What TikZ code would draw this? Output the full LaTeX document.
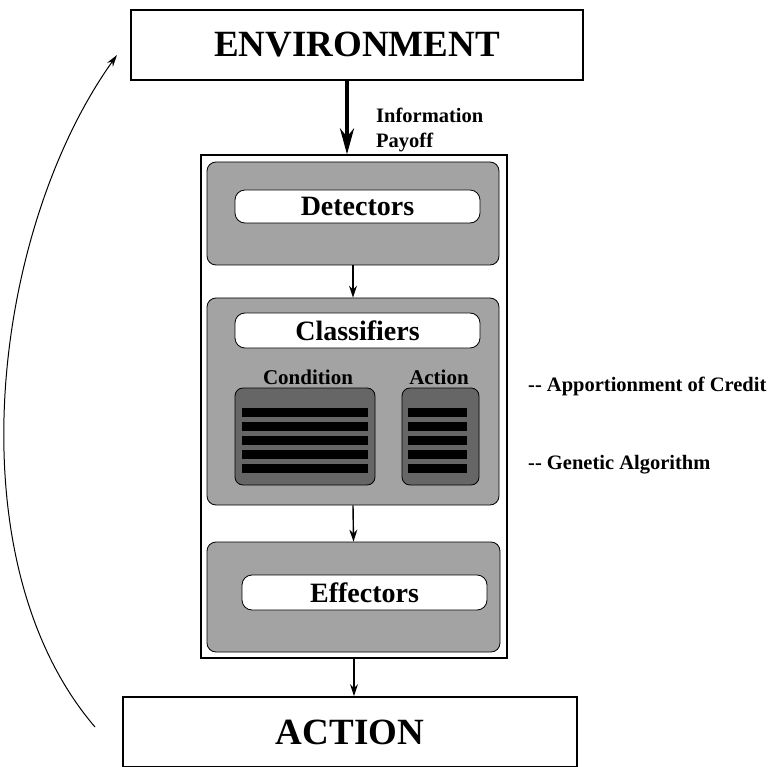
\documentclass[tikz,border=0pt]{standalone}
\usepackage{fontspec}
\setmainfont{Liberation Serif}
\usetikzlibrary{arrows.meta,calc}
\definecolor{panelgray}{gray}{0.64}
\definecolor{darkpanel}{gray}{0.40}
\tikzset{
  bigbox/.style={draw, line width=1.8pt, fill=white, minimum width=#1, minimum height=70pt, inner sep=0pt},
  outerbox/.style={draw, line width=1.2pt, fill=white, inner sep=0pt},
  panel/.style={draw, line width=0.8pt, fill=panelgray, rounded corners=9pt, inner sep=0pt},
  labelbox/.style={draw, line width=0.8pt, fill=white, rounded corners=10pt, inner sep=0pt, font=\fontsize{28}{30}\selectfont\bfseries},
  darkbox/.style={draw, line width=0.8pt, fill=darkpanel, rounded corners=8pt, inner sep=0pt},
  smallarrow/.style={-{Stealth[length=12pt,width=8pt]}, line width=1.4pt},
  thickarrow/.style={-{Stealth[length=26pt,width=14pt]}, line width=4pt},
  sidetext/.style={anchor=west, inner sep=0pt, font=\fontsize{20.5}{22}\selectfont\bfseries},
  collabel/.style={inner sep=0pt, font=\fontsize{21}{23}\selectfont\bfseries},
  bar/.style={fill=black}
}
\begin{document}
\begin{tikzpicture}[x=1pt,y=-1pt]
\useasboundingbox (0,0) rectangle (771,767);
% big boxes
\node[bigbox=452pt, font=\fontsize{37}{39}\selectfont\bfseries] (env) at (357,45) {ENVIRONMENT};
\node[bigbox=454pt, font=\fontsize{37}{39}\selectfont\bfseries] (action) at (350,732) {ACTION};
% outer system box
\node[outerbox, minimum width=306pt, minimum height=503pt] (outer) at (354,406.5) {};
% panels
\node[panel, minimum width=292pt, minimum height=103pt] (det) at (353,213.5) {};
\node[labelbox, minimum width=245pt, minimum height=33pt] (detl) at (357.5,206.5) {Detectors};
\node[panel, minimum width=292pt, minimum height=207pt] (cls) at (353,401.5) {};
\node[labelbox, minimum width=245pt, minimum height=35pt] (clsl) at (357.5,330.5) {Classifiers};
\node[panel, minimum width=293pt, minimum height=110pt] (eff) at (353.5,597) {};
\node[labelbox, minimum width=245pt, minimum height=35pt] (effl) at (364.5,592.5) {Effectors};
% condition / action
\node[collabel] (condl) at (308,377) {Condition};
\node[collabel] (actl) at (439,377) {Action};
\node[darkbox, minimum width=140pt, minimum height=97pt] (cond) at (305,436.5) {};
\node[darkbox, minimum width=77pt, minimum height=97pt] (act) at (440.5,436.5) {};
\foreach \y in {408,422,436,450,464} {
  \fill[bar] (242,\y) rectangle (368,\y+8.5);
  \fill[bar] (408,\y) rectangle (467,\y+8.5);
}
% side texts
\node[sidetext] (info) at (376,115) {Information};
\node[sidetext] (pay) at (376,142) {Payoff};
\node[sidetext] (aoc) at (528,386) {{-}{-} Apportionment of Credit};
\node[sidetext] (ga) at (528,465) {{-}{-} Genetic Algorithm};
% connectors
\coordinate (px) at (347,0);
\draw[thickarrow] (env.south -| px) -- (outer.north -| px);
\draw[smallarrow] (det.south) -- (cls.north);
\draw[smallarrow] (cls.south) -- (eff.north);
\draw[smallarrow] (outer.south) -- (outer.south |- action.north);
\coordinate (cs) at (95,727);
\coordinate (ce) at (117,55);
\draw[-{Stealth[length=12pt,width=7pt]}, line width=1pt] (cs) .. controls (-48,560) and (-8,230) .. (ce);
\end{tikzpicture}
\end{document}
